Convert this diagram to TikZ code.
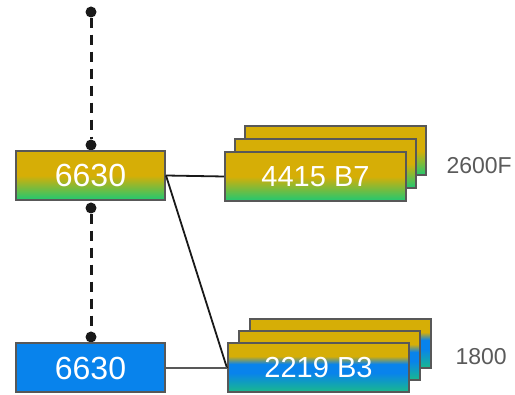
\documentclass[tikz,border=0pt]{standalone}
\usepackage{fontspec}
\setmainfont{Liberation Sans}
\usepackage{tikz}
\usetikzlibrary{positioning, arrows.meta, calc}

\definecolor{chipgold}{RGB}{214,174,6}
\definecolor{chipgreen}{RGB}{45,198,106}
\definecolor{chipblue}{RGB}{8,131,236}
\definecolor{chipteal}{RGB}{26,187,138}
\definecolor{chipframe}{RGB}{88,88,88}
\definecolor{labelgray}{RGB}{90,90,90}

\pgfdeclareverticalshading{goldgreen}{100bp}{color(0bp)=(chipgreen); color(27bp)=(chipgreen); color(50bp)=(chipgold); color(100bp)=(chipgold)}
\pgfdeclareverticalshading{goldblue}{100bp}{color(0bp)=(chipteal); color(25bp)=(chipteal); color(45bp)=(chipblue); color(54bp)=(chipblue); color(62bp)=(chipgold); color(100bp)=(chipgold)}

\begin{document}
\begin{tikzpicture}[x=1pt, y=-1pt,
		chip/.style={draw=chipframe, line width=2pt, minimum width=149pt, minimum height=49pt, inner sep=0pt, text=white, font=\fontsize{32}{34}\selectfont},
		board/.style={chip, minimum width=181pt, font=\fontsize{29}{30}\selectfont},
		ggchip/.style={shading=goldgreen},
		gbchip/.style={shading=goldblue},
		dot/.style={circle, fill=black!90, inner sep=0pt, minimum size=11pt},
		bus/.style={black!90, line width=3pt, dash pattern=on 10pt off 7pt},
		link/.style={black!90, line width=1.8pt},
		glink/.style={chipframe, line width=2pt},
		tag/.style={anchor=west, text=labelgray, font=\fontsize{23}{25}\selectfont}
		]
		\useasboundingbox (0,0) rectangle (515,395);
		
		% ----- Bus -----
		\node[dot] (d1) at (91, 12) {};
		\node[dot] (d2) at (91, 145) {};
		\node[dot] (d3) at (91, 208) {};
		\node[dot] (d4) at (91, 337) {};
		\draw[bus] (d1) -- (d2);
		\draw[bus] (d3) -- (d4);
		
		% ----- Left chips -----
		\node[chip, ggchip] (c1) at (90.5, 175.5) {6630};
		\node[chip, fill=chipblue] (c2) at (90.5, 368) {6630};
		
		% ----- Upper stack -----
		\node[board, ggchip] (u3) at (335.5, 151) {};
		\node[board, ggchip] (u2) at (325.5, 163.5) {};
		\node[board, ggchip] (u1) at (315.5, 176.5) {4415 B7};
		\node[tag] (t1) at (443, 166) {2600F};
		
		% ----- Lower stack -----
		\node[board, gbchip] (l3) at (340.5, 344) {};
		\node[board, gbchip] (l2) at (329.5, 356) {};
		\node[board, gbchip] (l1) at (318.5, 368) {2219 B3};
		\node[tag] (t2) at (452, 357) {1800};
		
		% Links
		\draw[link] (c1.east) -- (u1.west);
		\draw[link] (c1.east) -- (l1.west);
		\draw[glink] (c2.east) -- (l1.west);
		
	\end{tikzpicture}
\end{document}
